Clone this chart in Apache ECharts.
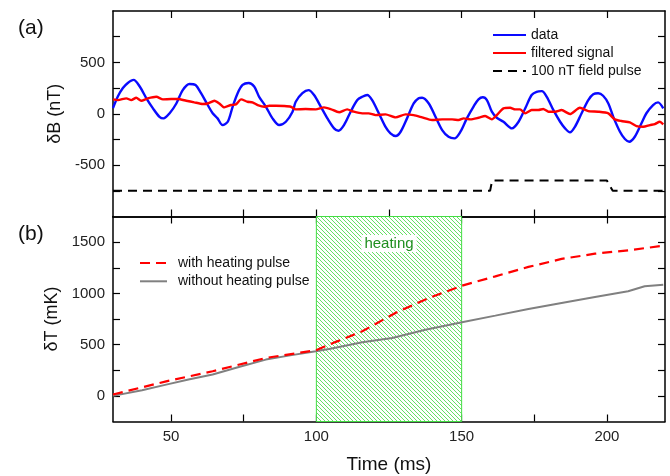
<!DOCTYPE html>
<html>
<head>
<meta charset="utf-8">
<script src="https://cdn.jsdelivr.net/npm/echarts@6/dist/echarts.min.js"></script>
<style>html,body{margin:0;padding:0;background:#fff}#c{width:670px;height:476px}</style>
</head>
<body>
<div id="c"></div>
<script>
// ---------- data (panel a) ----------
const dataTime = [30,31.7,33.4,35.1,37.1,39.2,41.5,43.7,46,47.4,49.5,51.8,54,56.3,58.4,60.3,62.6,64.3,66,67.7,69.5,71.2,72.9,74.6,76.7,78.6,80.3,82.6,84.9,87.2,89.5,91.8,92.9,95.2,97.3,99.2,101.5,103.8,106.1,107.6,109.5,111.8,114.1,115.8,117.5,119.2,121.5,123.8,125.5,127.3,129,131.2,133.5,135.2,136.4,138.7,141,143.3,145.5,147.5,149.6,151.8,154.1,155.8,157.3,158.7,160.4,162.1,164.4,167.3,169.6,171.9,174.1,175.8,177.6,179.3,181.6,183.9,185.6,187.3,189,191.3,193.6,195.3,197,198.7,200.5,202.2,204.5,206.2,207.7,209.6,211.9,213.6,215.9,217.6,219.4];
const dataB = [55,170,250,300,330,265,150,55,-30,-45,5,100,230,290,280,200,85,5,-45,-110,-78,70,200,280,300,265,165,70,-45,-110,-78,20,117,200,230,182,70,-45,-142,-165,-110,20,133,165,182,133,5,-127,-190,-217,-175,-45,100,150,156,100,-30,-160,-225,-240,-175,-45,70,140,160,133,20,-39,-78,-142,-78,53,182,214,220,165,35,-78,-142,-181,-127,5,133,189,199,175,100,-30,-175,-246,-272,-224,-93,5,85,111,53];
const filtTime = [30,31.7,34.6,36.3,38,39.7,42,44.9,47.2,50,52.3,55.2,58,60.9,62.6,64.9,66.6,68.3,70.6,72.3,74.1,76.3,78,79.8,82.1,83.8,86.1,88.9,91.2,92.9,96.3,99.8,102.6,104.9,107.8,110.6,112.9,115.8,118,120.4,123.8,127.3,130.7,133.5,136.4,139.8,143.3,146.7,149,150.7,153,155.8,158.1,160.4,162.1,164.4,166.7,168.4,170.1,171.9,174.1,176.4,178.1,179.9,182.2,184.4,187.3,190.7,193.6,197,200.5,202.7,205,207.9,210.2,212.5,214.8,216.5,218.2,219.4];
const filtB = [140,133,150,133,156,127,150,165,140,143,143,127,111,95,100,127,100,62,85,91,140,117,111,85,68,78,78,75,68,43,46,43,62,46,14,43,20,4,4,-13,-6,-35,-6,-13,-35,-61,-55,-55,-61,-45,-55,-39,-22,-55,-13,53,58,43,43,4,36,36,46,20,20,36,-3,58,26,20,4,-55,-71,-84,-120,-127,-110,-100,-78,-103];
const pulseTime = [30,159.8,160.5,200,202,220];
const pulseB = [-750,-750,-650,-650,-750,-750];

// ---------- data (panel b) ----------
const heatTime = [30,48.3,64.3,82.6,99.8,106.7,115.8,127.2,138.7,150.1,161.6,173,184.4,195.9,207.3,219.4];
const heatT = [13,142,240,370,445,527,630,809,955,1075,1166,1258,1336,1387,1420,1465];
const noHeatTime = [30,40,48.3,56,64.3,73,82.6,91,99.8,104.4,115.8,126.1,137.5,150.1,161.6,173,184.4,195.9,207.3,213,219.4];
const noHeatT = [0,55,110,160,208,280,354,395,435,458,523,565,646,718,783,848,907,965,1020,1069,1085];
const heatWindow = [100,150];

// ---------- ticks ----------
const timeTicks = [50,75,100,125,150,175,200];
const timeLabels = [50,100,150,200];
const bTicks = [-750,-500,-250,0,250,500,750];
const bLabels = [-500,0,500];
const tTicks = [0,250,500,750,1000,1250,1500];
const tLabels = [0,500,1000,1500];

const zip = (a,b) => a.map((v,i)=>[v,b[i]]);

// hatch pattern
const pc = document.createElement('canvas');
pc.width = 4; pc.height = 4;
const pctx = pc.getContext('2d');
pctx.fillStyle = '#ffffff'; pctx.fillRect(0,0,4,4);
pctx.strokeStyle = '#55dd55'; pctx.lineWidth = 0.9;
pctx.beginPath();
pctx.moveTo(-1,-1); pctx.lineTo(5,5);
pctx.moveTo(-1,3); pctx.lineTo(1,5);
pctx.moveTo(3,-1); pctx.lineTo(5,1);
pctx.stroke();

const FONT = 'Liberation Sans, Arial, sans-serif';
const axLine = {show:true, onZero:false, lineStyle:{color:'#000', width:1.5}};
const tick = vals => ({show:true, inside:true, length:7, customValues: vals, lineStyle:{color:'#000', width:1.2}});
const noLab = {show:false};
const lab = vals => ({show:true, customValues: vals, fontSize:15, color:'#222', fontFamily:FONT, margin:8, formatter: v => String(v)});

const chart = echarts.init(document.getElementById('c'), null, {renderer:'canvas'});
chart.setOption({
  animation:false,
  backgroundColor:'#fff',
  title:[
    {text:'(a)', left:13, top:13, textStyle:{fontSize:21, fontWeight:'normal', color:'#111', fontFamily:FONT}},
    {text:'(b)', left:13, top:219, textStyle:{fontSize:21, fontWeight:'normal', color:'#111', fontFamily:FONT}}
  ],
  grid:[
    {left:113, right:5, top:11, height:205.5},
    {left:113, right:5, top:216.5, height:205}
  ],
  legend:[
    {data:['data','filtered signal','100 nT field pulse'], orient:'vertical', left:492, top:28, padding:0,
     itemWidth:33, itemHeight:14, itemGap:4, selectedMode:false, itemStyle:{opacity:0},
     textStyle:{fontSize:14, color:'#111', fontFamily:FONT}},
    {data:['with heating pulse','without heating pulse'], orient:'vertical', left:139, top:256, padding:0,
     itemWidth:27, itemHeight:14, itemGap:4.3, selectedMode:false, itemStyle:{opacity:0},
     textStyle:{fontSize:14, color:'#111', fontFamily:FONT, padding:[0,0,0,6]}}
  ],
  xAxis:[
    {type:'value', gridIndex:0, min:30, max:220, position:'bottom', axisLine:axLine, axisTick:tick(timeTicks), axisLabel:noLab, splitLine:{show:false}},
    {type:'value', gridIndex:0, min:30, max:220, position:'top', axisLine:axLine, axisTick:tick(timeTicks), axisLabel:noLab, splitLine:{show:false}},
    {type:'value', gridIndex:1, min:30, max:220, position:'bottom', axisLine:axLine, axisTick:tick(timeTicks), axisLabel:lab(timeLabels), splitLine:{show:false},
     name:'Time (ms)', nameLocation:'middle', nameGap:34, nameTextStyle:{fontSize:19, color:'#111', fontFamily:FONT}},
    {type:'value', gridIndex:1, min:30, max:220, position:'top', axisLine:axLine, axisTick:tick(timeTicks), axisLabel:noLab, splitLine:{show:false}}
  ],
  yAxis:[
    {type:'value', gridIndex:0, min:-1000, max:1000, position:'left', axisLine:axLine, axisTick:tick(bTicks), axisLabel:lab(bLabels), splitLine:{show:false},
     name:'δB (nT)', nameLocation:'middle', nameGap:47, nameTextStyle:{fontSize:18, color:'#111', fontFamily:FONT}},
    {type:'value', gridIndex:0, min:-1000, max:1000, position:'right', axisLine:axLine, axisTick:tick(bTicks), axisLabel:noLab, splitLine:{show:false}},
    {type:'value', gridIndex:1, min:-250, max:1750, position:'left', axisLine:axLine, axisTick:tick(tTicks), axisLabel:lab(tLabels), splitLine:{show:false},
     name:'δT (mK)', nameLocation:'middle', nameGap:47, nameTextStyle:{fontSize:18, color:'#111', fontFamily:FONT}},
    {type:'value', gridIndex:1, min:-250, max:1750, position:'right', axisLine:axLine, axisTick:tick(tTicks), axisLabel:noLab, splitLine:{show:false}}
  ],
  series:[
    {name:'data', type:'line', xAxisIndex:0, yAxisIndex:0, data:zip(dataTime,dataB), symbol:'none', smooth:0.3,
     lineStyle:{color:'#0a0aff', width:2.4}, itemStyle:{color:'#0a0aff'}, z:3},
    {name:'filtered signal', type:'line', xAxisIndex:0, yAxisIndex:0, data:zip(filtTime,filtB), symbol:'none', smooth:0.2,
     lineStyle:{color:'#ff0000', width:2.4}, itemStyle:{color:'#ff0000'}, z:4},
    {name:'100 nT field pulse', type:'line', xAxisIndex:0, yAxisIndex:0, data:zip(pulseTime,pulseB), symbol:'none',
     lineStyle:{color:'#000', width:2, type:[9,6]}, itemStyle:{color:'#000'}, z:3},
    {name:'without heating pulse', type:'line', xAxisIndex:2, yAxisIndex:2, data:zip(noHeatTime,noHeatT), symbol:'none',
     lineStyle:{color:'#808080', width:2}, itemStyle:{color:'#808080'}, z:3,
     markArea:{silent:true, z:1,
       itemStyle:{color:{image:pc, repeat:'repeat'}, borderColor:'#44dd44', borderWidth:1},
       label:{show:true, position:'insideTop', distance:19, formatter:'heating', color:'#1f8f1f', fontSize:15, fontFamily:FONT, backgroundColor:'#fff', padding:[1,3]},
       data:[[{xAxis:heatWindow[0]},{xAxis:heatWindow[1]}]]}},
    {name:'with heating pulse', type:'line', xAxisIndex:2, yAxisIndex:2, data:zip(heatTime,heatT), symbol:'none',
     lineStyle:{color:'#ff0000', width:2.2, type:[10,6]}, itemStyle:{color:'#ff0000'}, z:4}
  ]
});
</script>
</body>
</html>
